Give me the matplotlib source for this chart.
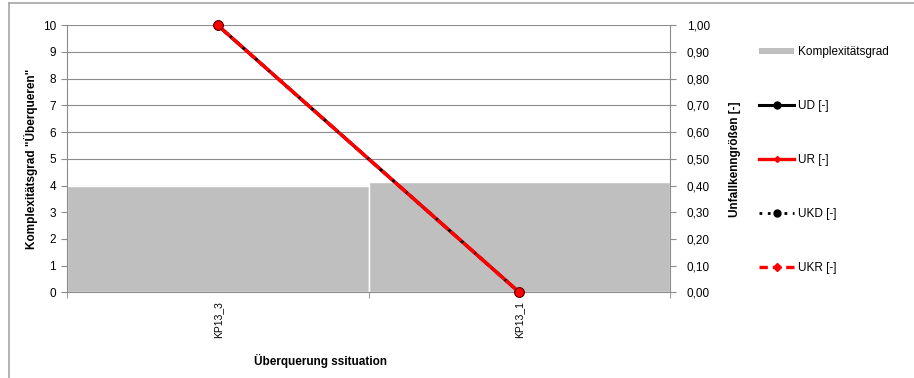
import matplotlib
matplotlib.use("Agg")
import matplotlib.pyplot as plt
from matplotlib.lines import Line2D
from matplotlib.patches import Patch
from matplotlib.ticker import FuncFormatter

plt.rcParams['font.family'] = ['Liberation Sans', 'DejaVu Sans']

categories = ["KP13_3", "KP13_1"]
komplexitaet = [3.98, 4.12]
ud = [1.00, 0.00]
ur = [1.00, 0.00]
ukd = [1.00, 0.00]
ukr = [1.00, 0.00]

GRID = "#8c8c8c"
BAR = "#bfbfbf"

fig = plt.figure(figsize=(9.14, 3.78), dpi=100)

# outer chart frame (left and top edges)
fig.add_artist(Line2D([8.5 / 914, 8.5 / 914], [0, 1 - 3 / 378], color="#a6a6a6", lw=1.2))
fig.add_artist(Line2D([8.5 / 914, 1], [1 - 3 / 378, 1 - 3 / 378], color="#a6a6a6", lw=1.2))

ax = fig.add_axes([67 / 914, 1 - 292.3 / 378, 603 / 914, 267 / 378])
x = list(range(len(categories)))
ax.bar(x, komplexitaet, width=1.0, color=BAR, edgecolor="white", linewidth=1.0, zorder=2)
ax.set_xlim(-0.5, len(categories) - 0.5)
ax.set_ylim(0, 10)
ax.set_yticks(range(0, 11))
ax.yaxis.grid(True, color=GRID, lw=0.8, zorder=0)
ax.set_axisbelow(True)
ax.set_xticks(x)
ax.set_xticklabels(categories, rotation=90, fontsize=7.5)
ax.tick_params(axis="x", which="major", length=0, pad=6)
ax.set_xticks([-0.5, 0.5, 1.5], minor=True)
ax.tick_params(axis="x", which="minor", length=4, color=GRID)
ax.tick_params(axis="y", length=4, color=GRID, labelsize=8.5, pad=4)
for s in ["top", "right"]:
    ax.spines[s].set_visible(False)
for s in ["left", "bottom"]:
    ax.spines[s].set_color(GRID)
ax.set_ylabel('Komplexitätsgrad "Überqueren"', fontsize=8.5, fontweight="bold", labelpad=3)

ax2 = ax.twinx()
ax2.set_ylim(0, 1)
ax2.set_yticks([i / 10 for i in range(11)])
ax2.yaxis.set_major_formatter(FuncFormatter(lambda v, p: f"{v:.2f}".replace(".", ",")))
ax2.tick_params(axis="y", length=4, color=GRID, labelsize=8.5, pad=8)
for s in ["top", "left", "bottom"]:
    ax2.spines[s].set_visible(False)
ax2.spines["right"].set_color(GRID)
ax2.set_ylabel("Unfallkenngrößen [-]", fontsize=8.5, fontweight="bold", labelpad=14)

ax2.plot(x, ud, color="black", lw=2.2, marker="o", ms=6, zorder=3, clip_on=False)
ax2.plot(x, ur, color="red", lw=2.4, marker="D", ms=4, zorder=4, clip_on=False)
ax2.plot(x, ukd, color="black", lw=2.0, ls=(0, (1, 2)), marker="o", ms=6, zorder=5, clip_on=False)
ax2.plot(x, ukr, color="red", lw=2.4, ls=(0, (4, 1.5)), marker="o", ms=7,
         mfc="red", mec="#600000", mew=0.8, zorder=6, clip_on=False)

fig.text(321 / 914, 1 - 361 / 378, "Überquerung ssituation", fontsize=8.5,
         fontweight="bold", ha="center", va="center")

handles = [
    Patch(facecolor=BAR, edgecolor="none"),
    Line2D([], [], color="black", lw=2.2, marker="o", ms=5),
    Line2D([], [], color="red", lw=2.4, marker="D", ms=3),
    Line2D([], [], color="black", lw=2.0, ls=(0, (1, 2)), marker="o", ms=5),
    Line2D([], [], color="red", lw=2.4, ls=(0, (2.5, 1.5)), marker="D", ms=4),
]
labels = ["Komplexitätsgrad", "UD [-]", "UR [-]", "UKD [-]", "UKR [-]"]
leg = fig.legend(handles, labels, loc="upper left", bbox_to_anchor=(759 / 914, 1 - 46 / 378),
                 frameon=False, fontsize=8.5, handlelength=3.0, handleheight=0.4,
                 handletextpad=0.3, labelspacing=3.55, borderpad=0, borderaxespad=0)

fig.savefig("out.png", dpi=100)
